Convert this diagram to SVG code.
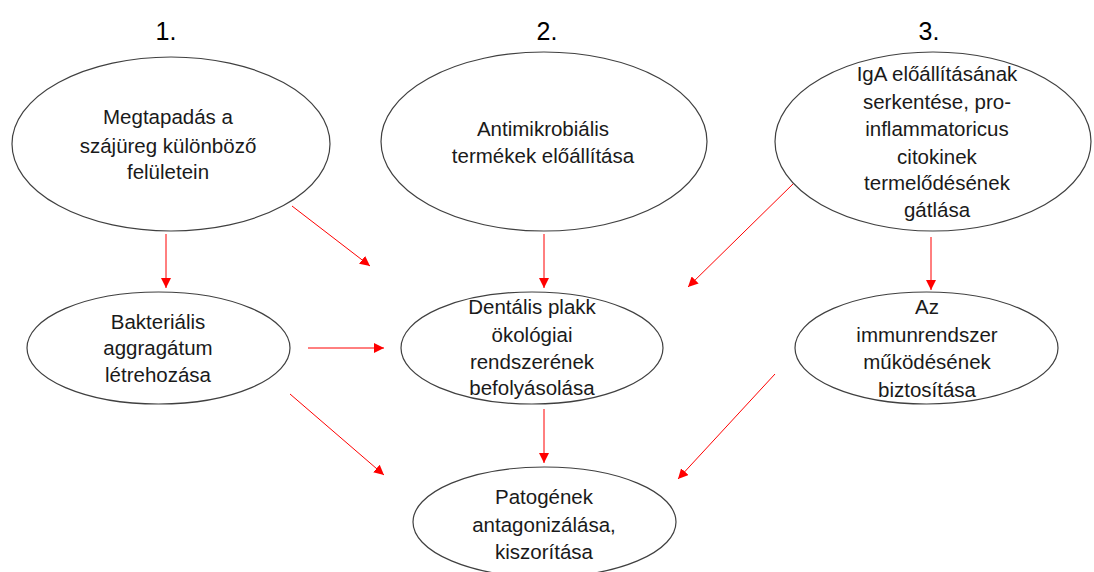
<svg xmlns="http://www.w3.org/2000/svg" width="1094" height="572" viewBox="0 0 1094 572">
<style>
.n{fill:#fff;stroke:#404040;stroke-width:1.2}
.t{font-family:"Liberation Sans",Arial,sans-serif;font-size:20.5px;fill:#1a1a1a;text-anchor:middle}
.h{font-family:"Liberation Sans",Arial,sans-serif;font-size:25px;fill:#000;text-anchor:middle}
.c{stroke:#ff0000;stroke-width:1;fill:none;marker-end:url(#a)}
</style>
<defs>
<marker id="a" viewBox="0 0 10 10" refX="10" refY="5" markerWidth="10" markerHeight="10" markerUnits="userSpaceOnUse" orient="auto">
<path d="M0,0 L10,5 L0,10 z" fill="#ff0000"/>
</marker>
</defs>
<rect width="1094" height="572" fill="#fff"/>
<text class="h" x="166" y="40">1.</text>
<text class="h" x="547" y="40">2.</text>
<text class="h" x="929" y="40">3.</text>
<g id="connectors">
<line class="c" x1="166" y1="234" x2="166" y2="288"/>
<line class="c" x1="292" y1="206" x2="370" y2="266"/>
<line class="c" x1="544" y1="234" x2="544" y2="288"/>
<line class="c" x1="795" y1="182" x2="688" y2="287"/>
<line class="c" x1="931" y1="237" x2="931" y2="290"/>
<line class="c" x1="308" y1="348" x2="384" y2="348"/>
<line class="c" x1="290" y1="394" x2="384" y2="475"/>
<line class="c" x1="544" y1="409" x2="544" y2="463"/>
<line class="c" x1="775" y1="374" x2="678" y2="479"/>
</g>
<g id="n1">
<ellipse class="n" cx="171" cy="144" rx="159" ry="87"/>
<text class="t"><tspan x="168" y="124">Megtapadás a</tspan><tspan x="168" y="153">szájüreg különböző</tspan><tspan x="168" y="179">felületein</tspan></text>
</g>
<g id="n2">
<ellipse class="n" cx="544" cy="141.5" rx="163" ry="89.5"/>
<text class="t"><tspan x="543" y="136">Antimikrobiális</tspan><tspan x="543" y="163">termékek előállítása</tspan></text>
</g>
<g id="n3">
<ellipse class="n" cx="933" cy="141.5" rx="158" ry="89.5"/>
<text class="t"><tspan x="937" y="81">IgA előállításának</tspan><tspan x="937" y="109">serkentése, pro-</tspan><tspan x="937" y="136">inflammatoricus</tspan><tspan x="937" y="164">citokinek</tspan><tspan x="937" y="190">termelődésének</tspan><tspan x="937" y="217">gátlása</tspan></text>
</g>
<g id="n4">
<ellipse class="n" cx="158.5" cy="348" rx="131.5" ry="56"/>
<text class="t"><tspan x="158" y="329">Bakteriális</tspan><tspan x="158" y="355">aggragátum</tspan><tspan x="158" y="382">létrehozása</tspan></text>
</g>
<g id="n5">
<ellipse class="n" cx="532" cy="348" rx="131" ry="56"/>
<text class="t"><tspan x="532" y="314">Dentális plakk</tspan><tspan x="532" y="342">ökológiai</tspan><tspan x="532" y="369">rendszerének</tspan><tspan x="532" y="395">befolyásolása</tspan></text>
</g>
<g id="n6">
<ellipse class="n" cx="544.5" cy="522" rx="131.5" ry="55"/>
<text class="t"><tspan x="544" y="504">Patogének</tspan><tspan x="544" y="532">antagonizálása,</tspan><tspan x="544" y="559">kiszorítása</tspan></text>
</g>
<g id="n7">
<ellipse class="n" cx="926.5" cy="348" rx="131.5" ry="56"/>
<text class="t"><tspan x="927" y="314">Az</tspan><tspan x="927" y="342">immunrendszer</tspan><tspan x="927" y="369">működésének</tspan><tspan x="927" y="397">biztosítása</tspan></text>
</g>
</svg>
